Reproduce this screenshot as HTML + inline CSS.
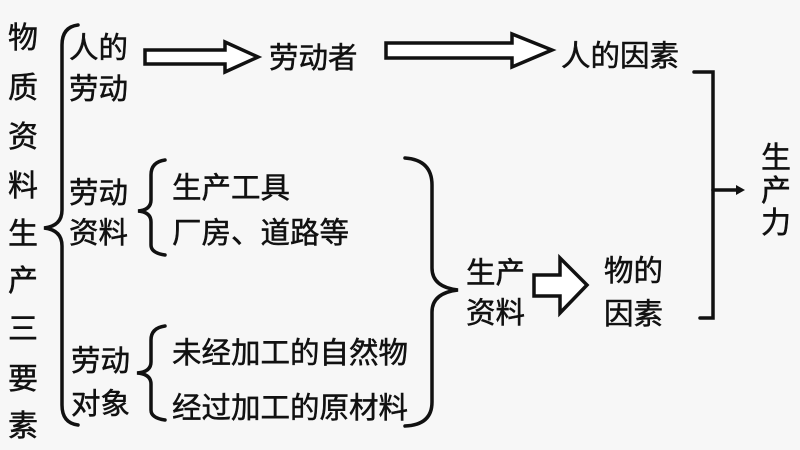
<!DOCTYPE html>
<html><head><meta charset="utf-8"><style>
html,body{margin:0;padding:0;background:#f7f7f7;}
svg{display:block}
text{font-family:"Liberation Sans","Noto Sans CJK SC",sans-serif;fill:#111;stroke:#111;stroke-width:0.5;}
</style></head><body>
<svg width="800" height="450" viewBox="0 0 800 450" xmlns="http://www.w3.org/2000/svg">
<g font-size="30" text-anchor="middle">
<text x="23" y="48">物</text><text x="23" y="98">质</text><text x="23" y="147">资</text>
<text x="23" y="196">料</text><text x="23" y="244">生</text><text x="23" y="291">产</text>
<text x="23" y="339">三</text><text x="23" y="389">要</text><text x="23" y="436">素</text>
</g>
<g fill="none" stroke="#111" stroke-width="3.5" stroke-linecap="round">
<path d="M78 25 Q62 27 62 45 L62 210 Q62 226 44 228 Q62 230 62 246 L62 405 Q62 423 78 425"/>
<path d="M165 160 Q151 162 151 175 L151 200 Q151 210 138 211 Q151 212 151 222 L151 245 Q151 253 165 255"/>
<path d="M165 326 Q151 328 151 340 L151 362 Q151 372 137 373 Q151 374 151 384 L151 410 Q151 418 165 420"/>
<path d="M405 158 Q432 160 432 185 L432 268 Q432 287 458 290 Q432 293 432 312 L432 402 Q432 425 405 426"/>
<path d="M694 72 L713 72 L713 318 L700 318"/>
<path d="M713 190 L738 190"/>
</g>
<path d="M736 185 L745 190 L736 195 Z" fill="#111"/>
<g fill="#fff" stroke="#111" stroke-width="3.5" stroke-linejoin="miter">
<path d="M145 50 L225 50 L225 42 L258 57 L225 72 L225 64 L145 64 Z"/>
<path d="M386 43 L512 43 L512 34 L552 50 L512 67 L512 58 L386 58 Z"/>
<path d="M534 275 L560 275 L560 258 L587 285 L560 313 L560 296 L534 296 Z"/>
</g>
<g font-size="29.5">
<text x="69" y="58">人的</text><text x="69" y="99">劳动</text>
<text x="269" y="68">劳动者</text>
<text x="561" y="66">人的因素</text>
<text x="69" y="203">劳动</text><text x="69" y="243">资料</text>
<text x="172" y="198">生产工具</text><text x="172" y="243">厂房、道路等</text>
<text x="71" y="371">劳动</text><text x="71" y="414">对象</text>
<text x="172" y="363">未经加工的自然物</text><text x="172" y="418">经过加工的原材料</text>
<text x="466" y="283">生产</text><text x="466" y="323">资料</text>
<text x="604" y="281">物的</text><text x="604" y="324">因素</text>
</g>
<g font-size="30" text-anchor="middle">
<text x="776" y="168">生</text><text x="776" y="201">产</text><text x="776" y="233">力</text>
</g>
</svg>
</body></html>
